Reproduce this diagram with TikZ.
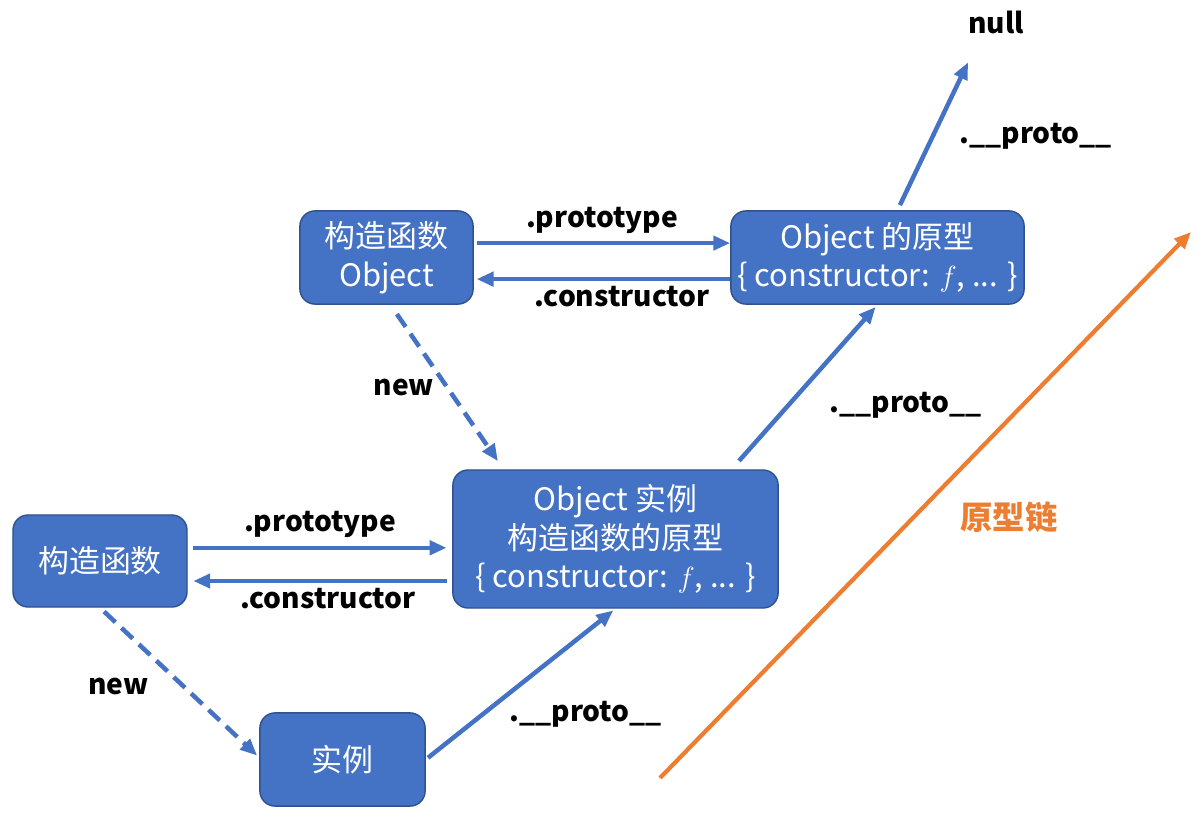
\documentclass[tikz,border=0pt]{standalone}
\usepackage{fontspec}
\setmainfont{Noto Sans CJK SC}
\usetikzlibrary{arrows.meta}
\definecolor{boxblue}{HTML}{4472C4}
\definecolor{boxline}{HTML}{2F528F}
\definecolor{chainorange}{HTML}{ED7D31}
\tikzstyle{objbox} = [rectangle, rounded corners=0.38cm, draw=boxline, line width=1pt, fill=boxblue, text=white, align=center, font=\fontsize{22}{27.5}\selectfont]
\tikzstyle{arrow} = [draw=boxblue, line width=3.2pt, -{Triangle[length=12pt,width=10pt]}]
\tikzstyle{newarrow} = [arrow, dash pattern=on 11pt off 6pt]
\tikzstyle{lbl} = [font=\fontsize{20}{23}\selectfont\bfseries, text=black]

\begin{document}
\begin{tikzpicture}[x=0.025cm, y=-0.025cm]
    \useasboundingbox (0,0) rectangle (1203,819);
    % Place nodes
    \node [objbox, minimum width=4.33cm, minimum height=2.33cm] (ctorObj) at (386.5,257.5) {构造函数\\Object};
    \node [objbox, minimum width=7.33cm, minimum height=2.33cm] (protoObj) at (877.5,257.5) {Object 的原型\\\{ constructor: $f$, ... \}};
    \node [objbox, minimum width=8.13cm, minimum height=3.45cm] (objInst) at (615.5,539) {Object 实例\\构造函数的原型\\\{ constructor: $f$, ... \}};
    \node [objbox, minimum width=4.35cm, minimum height=2.3cm] (ctor) at (100,561) {构造函数};
    \node [objbox, minimum width=4.13cm, minimum height=2.33cm] (inst) at (342.5,759.5) {实例};
    \node [lbl] (null) at (996,22) {null};
    \coordinate (chainStart) at (660,778);
    \coordinate (chainEnd) at (1191,232);

    % top pair
    \draw [arrow, shorten <=2pt] ([yshift=0.36cm]ctorObj.east) -- node [lbl, above, yshift=2pt] {.prototype} ([yshift=0.36cm]ctorObj.east -| protoObj.west);
    \draw [arrow, shorten >=2pt] ([yshift=-0.54cm]ctorObj.east -| protoObj.west) -- node [lbl, below, xshift=0.5cm] {.constructor} ([yshift=-0.54cm]ctorObj.east);
    \draw [arrow, shorten <=4pt] ([xshift=0.5cm]protoObj.north) -- node [lbl, pos=0.5, right, xshift=0.5cm] {.\_\_proto\_\_} ([xshift=-0.7cm, yshift=-0.6cm]null.south);
    \draw [newarrow, shorten <=8pt, shorten >=7pt] ([xshift=0.1cm]ctorObj.south) -- node [lbl, left, xshift=-0.15cm] {new} ([xshift=-2.8cm]objInst.north);
    \draw [arrow, shorten <=8pt, shorten >=2pt] ([xshift=2.9cm]objInst.north) -- node [lbl, right, xshift=0.45cm, yshift=-0.45cm] {.\_\_proto\_\_} (protoObj.south);

    % bottom pair
    \draw [arrow, shorten <=4pt, shorten >=4pt] ([yshift=0.33cm]ctor.east) -- node [lbl, above, yshift=2pt] {.prototype} ([yshift=0.33cm]ctor.east -| objInst.west);
    \draw [arrow, shorten <=4pt, shorten >=4pt] ([yshift=-0.5cm]ctor.east -| objInst.west) -- node [lbl, below, xshift=0.2cm] {.constructor} ([yshift=-0.5cm]ctor.east);
    \draw [newarrow, shorten <=4pt, shorten >=2pt] (ctor.south) -- node [lbl, left, xshift=-0.6cm, yshift=-0.1cm] {new} ([yshift=0.05cm]inst.west);
    \draw [arrow, shorten <=2pt, shorten >=2pt] (inst.east) -- node [lbl, right, xshift=-0.45cm, yshift=-0.75cm] {.\_\_proto\_\_} (objInst.south);

    % chain
    \draw [arrow, draw=chainorange, line width=3pt] (chainStart) -- node [lbl, text=chainorange, right, xshift=0.7cm, yshift=-0.3cm, font=\fontsize{23}{26}\selectfont\bfseries] {原型链} (chainEnd);
\end{tikzpicture}
\end{document}
